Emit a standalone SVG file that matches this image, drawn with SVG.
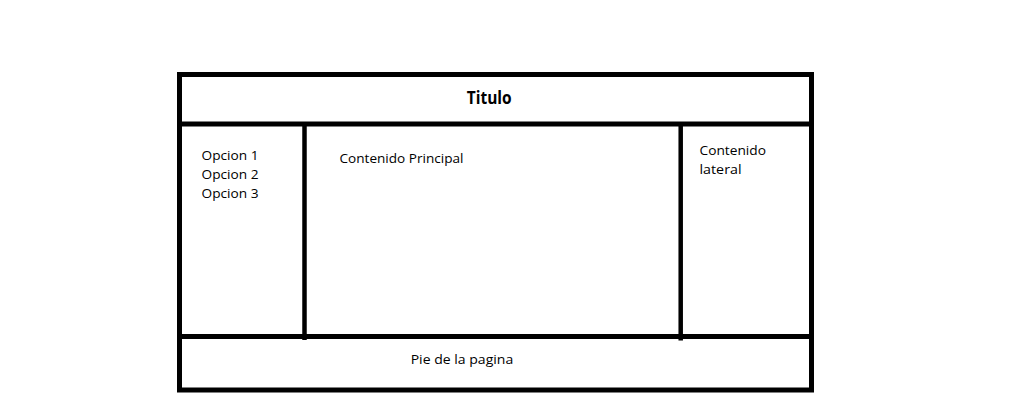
<svg xmlns="http://www.w3.org/2000/svg" width="1028" height="401" viewBox="0 0 1028 401">
<style>
.ln{stroke:#000;stroke-width:5;fill:none}
.lv{stroke:#000;stroke-width:4.5;fill:none}
.t{font-family:"Open Sans","Noto Sans","Liberation Sans",sans-serif;font-size:13.5px;fill:#000}
.b{font-family:"Open Sans","Noto Sans","Liberation Sans",sans-serif;font-size:17px;font-weight:bold;fill:#000}
</style>
<rect width="1028" height="401" fill="#fff"/>
<g id="frame">
<rect class="ln" x="179.5" y="74.5" width="632" height="315.5"/>
<line class="ln" x1="179.5" y1="124" x2="811.5" y2="124"/>
<line class="ln" x1="179.5" y1="336.5" x2="811.5" y2="336.5"/>
<line class="lv" x1="304.5" y1="124" x2="304.5" y2="340"/>
<line class="lv" x1="680.7" y1="124" x2="680.7" y2="340.5"/>
</g>
<g id="titulo"><text class="b" x="466.7" y="104" textLength="45" lengthAdjust="spacingAndGlyphs">Titulo</text></g>
<g id="menu">
<text class="t" x="201.5" y="160" textLength="57" lengthAdjust="spacingAndGlyphs">Opcion 1</text>
<text class="t" x="201.5" y="179" textLength="57" lengthAdjust="spacingAndGlyphs">Opcion 2</text>
<text class="t" x="201.5" y="198" textLength="57" lengthAdjust="spacingAndGlyphs">Opcion 3</text>
</g>
<g id="principal"><text class="t" x="339.5" y="163" textLength="124" lengthAdjust="spacingAndGlyphs">Contenido Principal</text></g>
<g id="lateral">
<text class="t" x="699.5" y="155" textLength="66.5" lengthAdjust="spacingAndGlyphs">Contenido</text>
<text class="t" x="699.5" y="174" textLength="42" lengthAdjust="spacingAndGlyphs">lateral</text>
</g>
<g id="pie"><text class="t" x="410.7" y="363.5" textLength="102.5" lengthAdjust="spacingAndGlyphs">Pie de la pagina</text></g>
<g id="connectors"></g>
</svg>
